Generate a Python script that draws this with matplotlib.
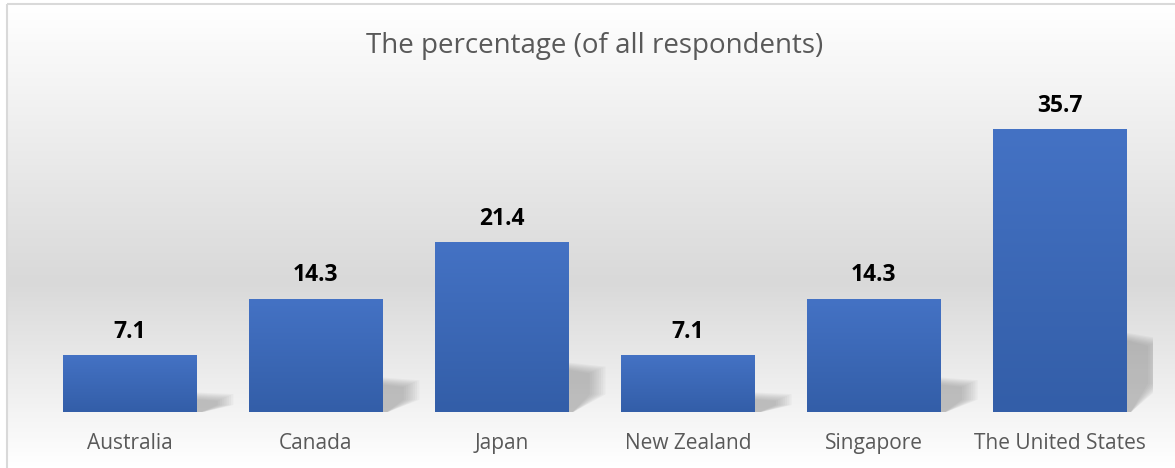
import numpy as np
import matplotlib.pyplot as plt
from matplotlib.patches import Polygon, Rectangle
from matplotlib.colors import LinearSegmentedColormap

countries = ["Australia", "Canada", "Japan", "New Zealand", "Singapore", "The United States"]
percent = [7.1, 14.3, 21.4, 7.1, 14.3, 35.7]
title = "The percentage (of all respondents)"

plt.rcParams['font.family'] = ['Open Sans', 'DejaVu Sans']

W, H = 1175, 468
fig = plt.figure(figsize=(W / 100, H / 100), dpi=100)

# background gradient panel with thin gray border
bg = fig.add_axes([0, 0, 1, 1])
bg.axis('off')
bg_cmap = LinearSegmentedColormap.from_list(
    'bg', [(0, '#ffffff'), (0.6, '#d9d9d9'), (1, '#ffffff')])
grad = np.linspace(0, 1, 300).reshape(-1, 1)
bg.imshow(grad, cmap=bg_cmap, extent=[7, W + 5, H, 4], aspect='auto', zorder=0)
bg.add_patch(Rectangle((7, 4), W, H, fill=False, edgecolor='#d9d9d9', lw=1.5, zorder=1))
bg.set_xlim(0, W)
bg.set_ylim(H, 0)

ax = fig.add_axes([36.5 / W, 1 - 412 / H, (1153 - 36.5) / W, 316 / H])
ax.set_facecolor('none')
x = np.arange(len(countries))
bars = ax.bar(x, percent, width=0.715, color='none', zorder=3)

# soft shadows to the right of each bar
for b in bars:
    xr = b.get_x() + b.get_width()
    h = b.get_height()
    s = 0.27 * h + 0.6
    d = 0.2
    for k in range(8):
        e = k * 0.012
        poly = Polygon([(xr - 0.05, -0.1), (xr - 0.05, s - e * 10),
                        (xr + d - e, s * 0.9 - e * 10), (xr + d - e, s * 0.35),
                        (xr + 0.02, -0.1)],
                       closed=True, facecolor='#808080', edgecolor='none',
                       alpha=0.07, zorder=2)
        ax.add_patch(poly)

# gradient fill for the bars
bar_cmap = LinearSegmentedColormap.from_list('bar', ['#335ea8', '#4472c4'])
for b in bars:
    ax.imshow(np.linspace(0, 1, 100).reshape(-1, 1), cmap=bar_cmap, origin='lower',
              extent=[b.get_x(), b.get_x() + b.get_width(), 0, b.get_height()],
              aspect='auto', zorder=3)
    ax.annotate(f"{b.get_height():.1f}", (b.get_x() + b.get_width() / 2, b.get_height()),
                xytext=(0, 13), textcoords='offset points', ha='center', va='baseline',
                fontsize=16.5, fontweight='bold', color='black')
ax.set_xlim(-0.5, len(countries) - 0.5)
ax.set_ylim(0, 40)

ax.set_xticks(x)
ax.set_xticklabels(countries, fontsize=15, color='#595959')
ax.tick_params(axis='x', length=0, pad=15)
ax.set_yticks([])
for sp in ax.spines.values():
    sp.set_visible(False)

fig.text(595 / W, 1 - 46 / H, title, ha='center', va='center', fontsize=20, color='#595959')

fig.savefig('out.png', dpi=100)
